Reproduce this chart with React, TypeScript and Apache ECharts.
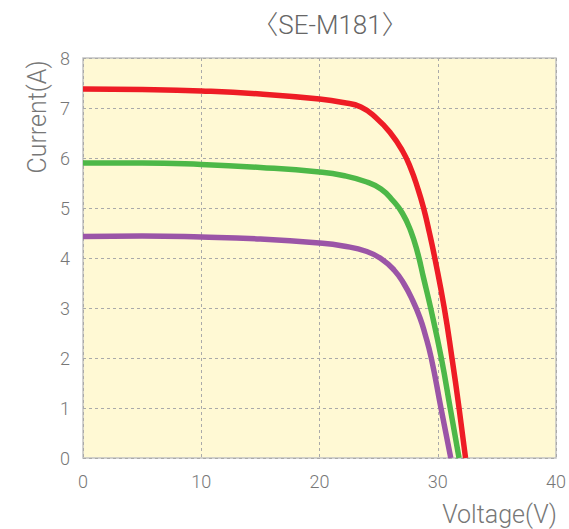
import React, { useEffect, useRef } from "react";
import * as echarts from "echarts";

const redData: [number, number][] = [
  [0, 7.38], [5, 7.37], [10, 7.34], [15, 7.28], [20, 7.18], [22, 7.11], [23.5, 7.02],
  [24.8, 6.8], [26.0, 6.5], [27.0, 6.15], [27.7, 5.8], [28.3, 5.4], [28.8, 5.0],
  [29.3, 4.5], [29.75, 4.0], [30.55, 3.0], [31.2, 2.0], [31.8, 1.0], [32.35, 0],
];
const greenData: [number, number][] = [
  [0, 5.9], [5, 5.9], [10, 5.87], [15, 5.81], [20, 5.72], [22, 5.65], [24, 5.52],
  [25.2, 5.38], [26.2, 5.15], [27.0, 4.9], [27.7, 4.55], [28.3, 4.1], [28.8, 3.6],
  [29.4, 3.0], [30.3, 2.0], [31.05, 1.0], [31.8, 0],
];
const purpleData: [number, number][] = [
  [0, 4.43], [5, 4.44], [10, 4.42], [15, 4.38], [20, 4.3], [22, 4.24], [24, 4.13],
  [25.3, 3.97], [26.3, 3.76], [27.1, 3.5], [27.9, 3.14], [28.5, 2.8], [28.9, 2.5],
  [29.45, 2.0], [30.27, 1.0], [31.1, 0],
];
const seriesColors = ["#ee1c25", "#4db848", "#9b55a7"];
const titleText = "〈SE-M181〉";
const xName = "Voltage(V)";
const yName = "Current(A)";

export default function App() {
  const ref = useRef<HTMLDivElement>(null);
  useEffect(() => {
    if (!ref.current) return;
    const chart = echarts.init(ref.current, undefined, { renderer: "svg" });
    const font = "Roboto, 'Noto Sans', sans-serif";
    const mk = (data: [number, number][], color: string) => ({
      type: "line",
      data,
      smooth: 0.5,
      showSymbol: false,
      lineStyle: { color, width: 5.5, cap: "butt", join: "round" },
      itemStyle: { color },
    });
    chart.setOption({
      animation: false,
      backgroundColor: "#ffffff",
      textStyle: { fontFamily: font },
      grid: {
        left: 83, top: 58, right: 8, bottom: 71,
        show: true, backgroundColor: "#fff9d4", borderColor: "#c2c2c2", borderWidth: 1.5,
      },
      xAxis: {
        type: "value", min: 0, max: 40, interval: 10,
        axisLine: { show: false }, axisTick: { show: false },
        axisLabel: { color: "#777", fontSize: 18, fontWeight: 300, margin: 14, fontFamily: font },
        splitLine: { show: true, lineStyle: { color: "#aaa", type: [3, 3], width: 1 } },
      },
      yAxis: {
        type: "value", min: 0, max: 8, interval: 1,
        axisLine: { show: false }, axisTick: { show: false },
        axisLabel: { color: "#777", fontSize: 18, fontWeight: 300, margin: 13, fontFamily: font },
        splitLine: { show: true, lineStyle: { color: "#aaa", type: [3, 3], width: 1 } },
      },
      graphic: [
        { type: "text", x: 330, y: 25, style: { text: titleText, fontSize: 26, fontWeight: 300, fill: "#666", fontFamily: "Roboto, 'Noto Sans CJK KR', sans-serif", align: "center", verticalAlign: "middle" } },
        { type: "text", x: 557, y: 514, style: { text: xName, fontSize: 25, fontWeight: 300, fill: "#777", fontFamily: font, align: "right", verticalAlign: "middle" } },
        { type: "text", x: 37, y: 117, rotation: Math.PI / 2, style: { text: yName, fontSize: 25, fontWeight: 300, fill: "#777", fontFamily: font, align: "center", verticalAlign: "middle" } },
      ],
      series: [
        mk(redData, seriesColors[0]),
        mk(greenData, seriesColors[1]),
        mk(purpleData, seriesColors[2]),
      ],
    });
    return () => chart.dispose();
  }, []);
  return <div ref={ref} style={{ width: 569, height: 529, position: "absolute", left: 0, top: 0 }} />;
}
